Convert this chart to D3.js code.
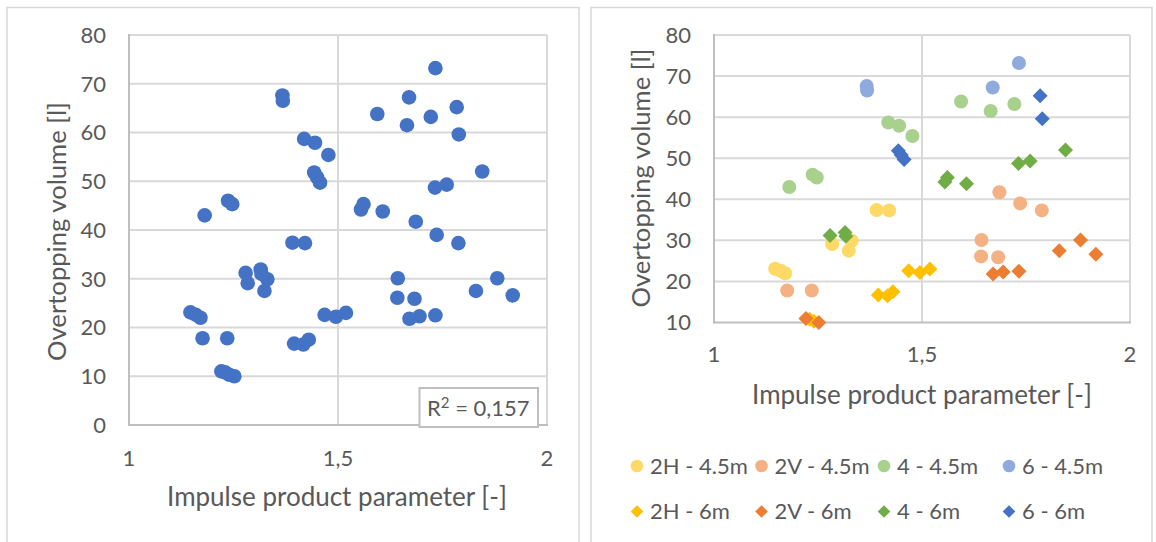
<!DOCTYPE html>
<html>
<head>
<meta charset="utf-8">
<script src="https://cdn.jsdelivr.net/npm/d3@7"></script>
<style>
  html, body { margin: 0; padding: 0; background: #fff; }
  svg { display: block; }
  text { font-family: Lato, "Open Sans", sans-serif; fill: #595959; }
</style>
</head>
<body>
<svg id="chart" width="1156" height="542"></svg>
<script>
// ---- data: impulse product parameter (x) vs overtopping volume in litres (y)
const seriesNames = ["2H - 4.5m", "2V - 4.5m", "4 - 4.5m", "6 - 4.5m",
                     "2H - 6m", "2V - 6m", "4 - 6m", "6 - 6m"];
const seriesShapes = ["circle", "circle", "circle", "circle",
                      "diamond", "diamond", "diamond", "diamond"];
const seriesColors = ["#FFD966", "#F4B183", "#A9D18E", "#8FAADC",
                      "#FFC000", "#ED7D31", "#70AD47", "#4472C4"];

const x2H45 = [1.147, 1.160, 1.171, 1.284, 1.331, 1.324, 1.391, 1.421];
const y2H45 = [23.1, 22.6, 22.0, 29.1, 29.9, 27.5, 37.4, 37.3];

const x2V45 = [1.176, 1.235, 1.643, 1.642, 1.683, 1.686, 1.736, 1.788];
const y2V45 = [17.8, 17.8, 30.1, 26.1, 25.9, 41.7, 39.0, 37.3];

const x445 = [1.181, 1.237, 1.247, 1.419, 1.445, 1.477, 1.594, 1.665, 1.722];
const y445 = [43.0, 46.0, 45.3, 58.7, 57.9, 55.4, 63.8, 61.5, 63.2];

const x645 = [1.367, 1.368, 1.670, 1.733];
const y645 = [67.6, 66.5, 67.2, 73.2];

const x2H6 = [1.230, 1.240, 1.395, 1.417, 1.430, 1.468, 1.495, 1.519];
const y2H6 = [10.8, 10.3, 16.7, 16.5, 17.5, 22.6, 22.2, 23.0];

const x2V6 = [1.221, 1.252, 1.671, 1.695, 1.733, 1.830, 1.881, 1.918];
const y2V6 = [11.0, 10.0, 21.8, 22.3, 22.5, 27.5, 30.1, 26.6];

const x46 = [1.279, 1.315, 1.317, 1.555, 1.561, 1.607, 1.732, 1.760, 1.845];
const y46 = [31.2, 31.9, 31.0, 44.2, 45.3, 43.8, 48.7, 49.3, 52.0];

const x66 = [1.443, 1.450, 1.457, 1.784, 1.789];
const y66 = [51.8, 50.8, 49.7, 65.2, 59.6];

const seriesX = [x2H45, x2V45, x445, x645, x2H6, x2V6, x46, x66];
const seriesY = [y2H45, y2V45, y445, y645, y2H6, y2V6, y46, y66];

const xTickValues = [1, 1.5, 2];
const xTickLabels = ["1", "1,5", "2"];
const yTicksLeft = [0, 10, 20, 30, 40, 50, 60, 70, 80];
const yTicksRight = [10, 20, 30, 40, 50, 60, 70, 80];

const xTitle = "Impulse product parameter [-]";
const yTitle = "Overtopping volume [l]";
const r2Value = "0,157";

// ---- helpers
const series = seriesNames.map((name, i) => ({
  name, shape: seriesShapes[i], color: seriesColors[i],
  points: seriesX[i].map((x, j) => ({ x, y: seriesY[i][j] }))
}));
const allPoints = series.flatMap(s => s.points);

const svg = d3.select("#chart");
const GRID = "#d9d9d9";
const AXIS = "#bfbfbf";

function diamondPath(h) {
  return `M0,${-h}L${h},0L0,${h}L${-h},0Z`;
}

// scale a text's font-size so its rendered width equals the wanted width
function fitWidth(sel, width) {
  const node = sel.node();
  const fs = parseFloat(sel.attr("font-size"));
  const len = node.getComputedTextLength();
  if (len > 0) sel.attr("font-size", (fs * width / len).toFixed(2));
  return sel;
}

function panelFrame(x0, x1) {
  svg.append("path")
    .attr("d", `M${x0},560V7.5H${x1}V560`)
    .attr("fill", "none").attr("stroke", "#d9d9d9").attr("stroke-width", 1.5);
}

function drawPlot(g, xs, ys, yTicks, xLabelY) {
  const [xl, xr] = xs.range();
  const [yb, yt] = ys.range();

  // horizontal gridlines
  g.append("g").selectAll("line").data(yTicks.filter(v => v !== ys.domain()[0]))
    .join("line")
    .attr("x1", xl).attr("x2", xr)
    .attr("y1", d => ys(d)).attr("y2", d => ys(d))
    .attr("stroke", GRID).attr("stroke-width", 2);
  // vertical gridlines
  g.append("g").selectAll("line").data(xTickValues.filter(v => v !== xs.domain()[0]))
    .join("line")
    .attr("x1", d => xs(d)).attr("x2", d => xs(d))
    .attr("y1", yb).attr("y2", yt)
    .attr("stroke", GRID).attr("stroke-width", 2);
  // value axes
  g.append("line").attr("x1", xl).attr("x2", xl).attr("y1", yb + 1).attr("y2", yt - 1)
    .attr("stroke", AXIS).attr("stroke-width", 2);
  g.append("line").attr("x1", xl - 1).attr("x2", xr + 1).attr("y1", yb).attr("y2", yb)
    .attr("stroke", AXIS).attr("stroke-width", 2);

  // y tick labels
  g.append("g").selectAll("text").data(yTicks).join("text")
    .attr("x", xl - 23).attr("y", d => ys(d))
    .attr("dy", "0.36em").attr("text-anchor", "end")
    .attr("font-size", 22).text(d => d);
  // x tick labels
  g.append("g").selectAll("text").data(xTickValues).join("text")
    .attr("x", d => xs(d)).attr("y", xLabelY)
    .attr("dy", "0.36em").attr("text-anchor", "middle")
    .attr("font-size", 22).text((d, i) => xTickLabels[i]);
}

function axisTitles(g, xCenter, xY, yX, yCenter) {
  const xt = g.append("text")
    .attr("x", xCenter).attr("y", xY).attr("dy", "0.36em")
    .attr("text-anchor", "middle").attr("font-size", 23).text(xTitle);
  fitWidth(xt, 340);
  const yt = g.append("text")
    .attr("transform", `translate(${yX},${yCenter}) rotate(-90)`)
    .attr("dy", "0.36em").attr("text-anchor", "middle")
    .attr("font-size", 23).text(yTitle);
  fitWidth(yt, 259);
}

// ---- left panel: all tests pooled
panelFrame(7, 579);
const xL = d3.scaleLinear().domain([1, 2]).range([129, 547]);
const yL = d3.scaleLinear().domain([0, 80]).range([425, 35]);
const gL = svg.append("g");
drawPlot(gL, xL, yL, yTicksLeft, 458);
axisTitles(gL, 337, 497, 57, 231.5);

gL.append("g").selectAll("circle").data(allPoints).join("circle")
  .attr("cx", d => xL(d.x)).attr("cy", d => yL(d.y))
  .attr("r", 7.3).attr("fill", "#4472C4");

// coefficient of determination label
const r2 = gL.append("g");
r2.append("rect").attr("x", 419.5).attr("y", 388).attr("width", 118.5).attr("height", 39)
  .attr("fill", "#fff").attr("stroke", AXIS).attr("stroke-width", 2);
const r2t = r2.append("text").attr("x", 427).attr("y", 415.5).attr("font-size", 22);
r2t.append("tspan").text("R");
r2t.append("tspan").attr("font-size", 15).attr("dy", -8).text("2");
r2t.append("tspan").attr("dy", 8).text(" = " + r2Value);

// ---- right panel: per configuration
panelFrame(591, 1152);
const xR = d3.scaleLinear().domain([1, 2]).range([714, 1130]);
const yR = d3.scaleLinear().domain([10, 80]).range([322.5, 35]);
const gR = svg.append("g");
drawPlot(gR, xR, yR, yTicksRight, 354.5);
axisTitles(gR, 922, 394.5, 640.5, 178);

series.forEach(s => {
  const sg = gR.append("g");
  if (s.shape === "circle") {
    sg.selectAll("circle").data(s.points).join("circle")
      .attr("cx", d => xR(d.x)).attr("cy", d => yR(d.y))
      .attr("r", 7).attr("fill", s.color);
  } else {
    sg.selectAll("path").data(s.points).join("path")
      .attr("transform", d => `translate(${xR(d.x)},${yR(d.y)})`)
      .attr("d", diamondPath(7.5)).attr("fill", s.color);
  }
});

// legend: two rows of four entries
const legendCols = [637, 761.5, 884, 1009];
const legendRows = [466, 511.5];
const leg = gR.append("g");
series.forEach((s, i) => {
  const cx = legendCols[i % 4], cy = legendRows[Math.floor(i / 4)];
  if (s.shape === "circle") {
    leg.append("circle").attr("cx", cx).attr("cy", cy).attr("r", 6.3).attr("fill", s.color);
  } else {
    leg.append("path").attr("transform", `translate(${cx},${cy})`)
      .attr("d", diamondPath(6.3)).attr("fill", s.color);
  }
  leg.append("text").attr("x", cx + 13).attr("y", cy).attr("dy", "0.36em")
    .attr("font-size", 22).text(s.name);
});
</script>
</body>
</html>
